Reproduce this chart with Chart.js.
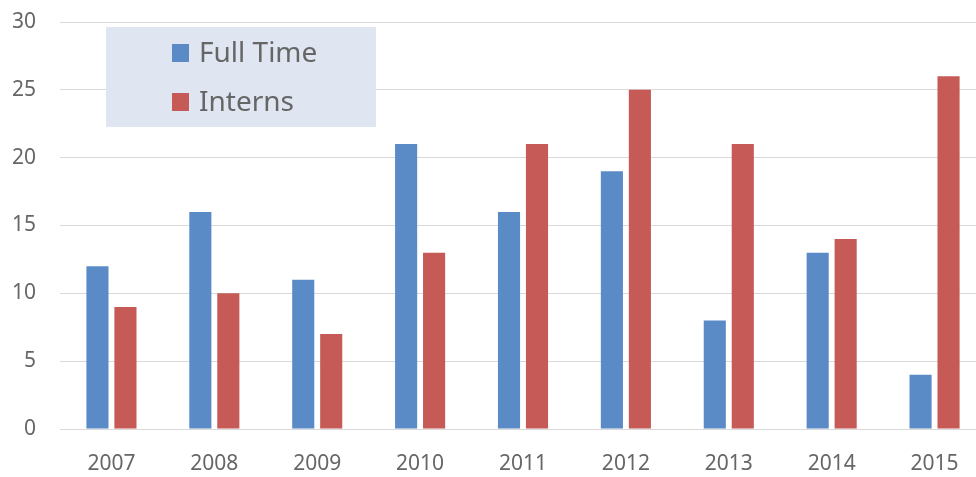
<!DOCTYPE html>
<html>
<head>
<meta charset="utf-8">
<script src="https://cdn.jsdelivr.net/npm/chart.js@4/dist/chart.umd.min.js"></script>
<style>
  html, body { margin: 0; padding: 0; background: #fff; overflow: hidden; }
  #wrap { position: relative; width: 1000px; height: 477px; }
</style>
</head>
<body>
<div id="wrap"><canvas id="chart"></canvas></div>
<script>
// data
const years = ['2007', '2008', '2009', '2010', '2011', '2012', '2013', '2014', '2015'];
const fullTime = [12, 16, 11, 21, 16, 19, 8, 13, 4];
const interns = [9, 10, 7, 13, 21, 25, 21, 14, 26];
const seriesNames = ['Full Time', 'Interns'];
const yTicks = [0, 5, 10, 15, 20, 25, 30];

const blue = '#5b8bc6';
const red = '#c55a56';
const txt = '#666666';
const font = '"Noto Sans", "Open Sans", sans-serif';

// legend in a shaded box sitting over the plot, like the excel one
const boxLegend = {
  id: 'boxLegend',
  afterDraw(chart) {
    const ctx = chart.ctx;
    ctx.save();
    ctx.fillStyle = '#dfe6f1';
    ctx.fillRect(106, 27, 270, 100);
    ctx.font = '28px ' + font;
    ctx.textBaseline = 'middle';
    chart.data.datasets.forEach((ds, i) => {
      const y = 53 + i * 49;
      ctx.fillStyle = ds.backgroundColor;
      ctx.fillRect(172, y - 9, 17, 18);
      ctx.fillStyle = txt;
      ctx.fillText(ds.label, 199, y + 1);
    });
    ctx.restore();
  }
};

let ctx = document.getElementById('chart').getContext('2d');
let chart = new Chart(ctx, {
  type: 'bar',
  data: {
    labels: years,
    datasets: [
      { label: seriesNames[0], data: fullTime, backgroundColor: blue },
      { label: seriesNames[1], data: interns, backgroundColor: red }
    ]
  },
  options: {
    responsive: true,
    maintainAspectRatio: false,
    animation: false,
    layout: { padding: { top: 22, right: 14, left: 0, bottom: 0 } },
    datasets: {
      bar: { categoryPercentage: 0.544, barPercentage: 0.79 }
    },
    plugins: {
      legend: { display: false },
      tooltip: { enabled: false }
    },
    scales: {
      x: {
        grid: { display: false, drawTicks: false },
        border: { display: true, color: '#d9d9d9', width: 1 },
        ticks: { color: txt, font: { family: font, size: 21 }, padding: 22, maxRotation: 0 },
        afterFit(s) { s.height = 48; s.paddingLeft = 0; s.paddingRight = 0; }
      },
      y: {
        min: 0,
        max: 30,
        afterBuildTicks(s) { s.ticks = yTicks.map(v => ({ value: v })); },
        grid: { color: '#d9d9d9', drawTicks: false },
        border: { display: false },
        ticks: { color: txt, font: { family: font, size: 21 }, padding: 24 },
        afterFit(s) { s.width = 60; s.paddingTop = 0; s.paddingBottom = 0; }
      }
    }
  },
  plugins: [boxLegend]
});
</script>
</body>
</html>
